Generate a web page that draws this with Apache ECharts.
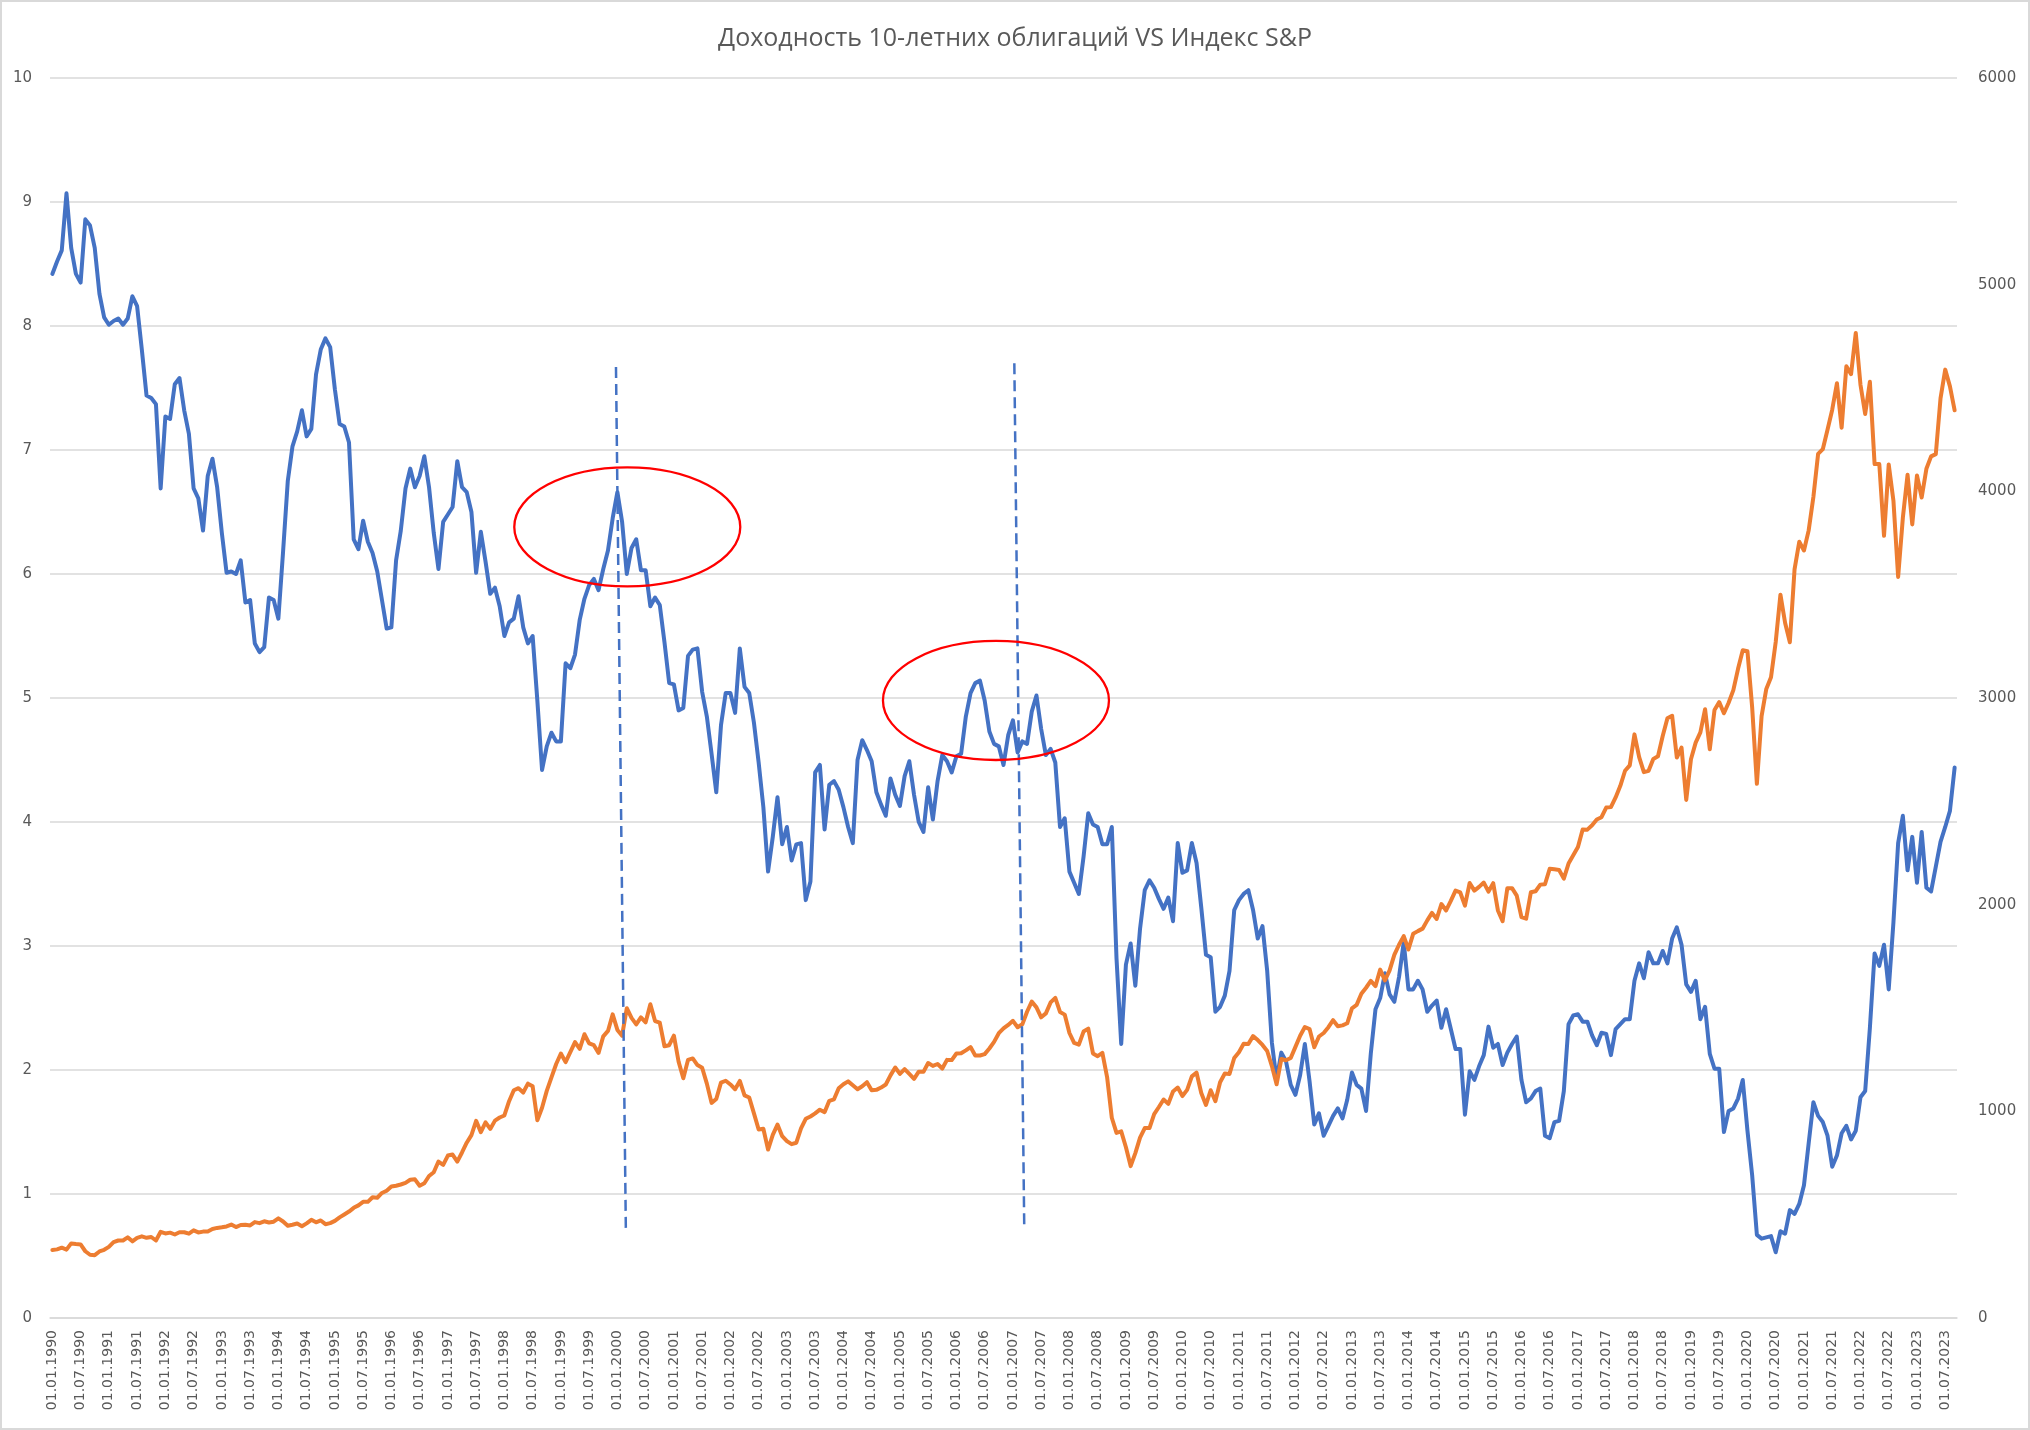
<!DOCTYPE html>
<html>
<head>
<meta charset="utf-8">
<script src="https://cdn.jsdelivr.net/npm/echarts@6/dist/echarts.min.js"></script>
<style>
html,body{margin:0;padding:0;background:#ffffff;}
#chart{width:2030px;height:1430px;}
</style>
</head>
<body>
<div id="chart"></div>
<script>
// ---- data ----
const titleText = 'Доходность 10-летних облигаций VS Индекс S&P';
const startYear = 1990;           // first category: 01.01.1990, monthly
const labelEvery = 6;             // a label every 6 months

// 10-year treasury yield, % (left axis), monthly, Jan 1990 – Sep 2023
const yields = [
  8.42, 8.52, 8.61, 9.07, 8.63, 8.42, 8.35, 8.86, 8.81, 8.63, 8.26, 8.07,
  8.01, 8.04, 8.06, 8.01, 8.06, 8.24, 8.16, 7.81, 7.44, 7.42, 7.37, 6.69,
  7.27, 7.25, 7.53, 7.58, 7.32, 7.13, 6.69, 6.61, 6.35, 6.79, 6.93, 6.70,
  6.33, 6.01, 6.02, 6.00, 6.11, 5.77, 5.79, 5.44, 5.37, 5.41, 5.81, 5.79,
  5.64, 6.18, 6.75, 7.03, 7.15, 7.32, 7.11, 7.17, 7.61, 7.81, 7.90, 7.83,
  7.49, 7.21, 7.19, 7.06, 6.28, 6.20, 6.43, 6.26, 6.17, 6.02, 5.79, 5.56,
  5.57, 6.11, 6.35, 6.69, 6.85, 6.70, 6.79, 6.95, 6.70, 6.33, 6.04, 6.42,
  6.48, 6.54, 6.91, 6.70, 6.66, 6.50, 6.01, 6.34, 6.10, 5.84, 5.89, 5.74,
  5.50, 5.61, 5.64, 5.82, 5.57, 5.44, 5.50, 4.98, 4.42, 4.61, 4.72, 4.65,
  4.65, 5.28, 5.24, 5.35, 5.63, 5.80, 5.91, 5.96, 5.87, 6.04, 6.19, 6.45,
  6.66, 6.42, 6.00, 6.21, 6.28, 6.03, 6.03, 5.74, 5.81, 5.75, 5.45, 5.12,
  5.11, 4.90, 4.92, 5.34, 5.39, 5.40, 5.05, 4.85, 4.55, 4.24, 4.78, 5.04,
  5.04, 4.88, 5.40, 5.09, 5.04, 4.80, 4.48, 4.12, 3.60, 3.88, 4.20, 3.82,
  3.96, 3.69, 3.82, 3.83, 3.37, 3.52, 4.40, 4.46, 3.94, 4.30, 4.33, 4.26,
  4.12, 3.96, 3.83, 4.50, 4.66, 4.58, 4.49, 4.24, 4.14, 4.05, 4.35, 4.22,
  4.13, 4.37, 4.49, 4.22, 4.00, 3.92, 4.28, 4.02, 4.33, 4.54, 4.49, 4.40,
  4.53, 4.55, 4.85, 5.04, 5.12, 5.14, 4.98, 4.73, 4.63, 4.61, 4.46, 4.70,
  4.82, 4.56, 4.65, 4.63, 4.89, 5.02, 4.75, 4.54, 4.59, 4.48, 3.96, 4.03,
  3.60, 3.51, 3.42, 3.72, 4.07, 3.98, 3.96, 3.82, 3.82, 3.96, 2.90, 2.21,
  2.85, 3.02, 2.68, 3.14, 3.45, 3.53, 3.47, 3.38, 3.30, 3.39, 3.20, 3.83,
  3.59, 3.61, 3.83, 3.67, 3.31, 2.93, 2.91, 2.47, 2.51, 2.60, 2.80, 3.29,
  3.37, 3.42, 3.45, 3.29, 3.06, 3.16, 2.80, 2.22, 1.92, 2.14, 2.07, 1.88,
  1.80, 1.96, 2.21, 1.91, 1.56, 1.65, 1.47, 1.55, 1.63, 1.69, 1.61, 1.76,
  1.98, 1.88, 1.85, 1.67, 2.13, 2.49, 2.58, 2.78, 2.61, 2.55, 2.75, 3.03,
  2.65, 2.65, 2.72, 2.65, 2.47, 2.52, 2.56, 2.34, 2.49, 2.33, 2.17, 2.17,
  1.64, 1.99, 1.92, 2.03, 2.12, 2.35, 2.18, 2.21, 2.04, 2.14, 2.21, 2.27,
  1.92, 1.74, 1.77, 1.83, 1.85, 1.47, 1.45, 1.58, 1.59, 1.83, 2.37, 2.44,
  2.45, 2.39, 2.39, 2.28, 2.20, 2.30, 2.29, 2.12, 2.33, 2.37, 2.41, 2.41,
  2.72, 2.86, 2.74, 2.95, 2.86, 2.86, 2.96, 2.86, 3.06, 3.15, 3.01, 2.69,
  2.63, 2.72, 2.41, 2.51, 2.13, 2.01, 2.01, 1.50, 1.67, 1.69, 1.77, 1.92,
  1.51, 1.15, 0.67, 0.64, 0.65, 0.66, 0.53, 0.70, 0.68, 0.87, 0.84, 0.92,
  1.07, 1.41, 1.74, 1.63, 1.58, 1.47, 1.22, 1.31, 1.49, 1.55, 1.44, 1.51,
  1.78, 1.83, 2.34, 2.94, 2.84, 3.01, 2.65, 3.19, 3.83, 4.05, 3.61, 3.88,
  3.51, 3.92, 3.47, 3.44, 3.64, 3.84, 3.96, 4.09, 4.44
];

// S&P 500 index (right axis), monthly, Jan 1990 – Sep 2023
const spx = [
  329, 332, 340, 331, 361, 358, 356, 323, 306, 304, 322, 330,
  344, 367, 375, 375, 390, 371, 388, 395, 388, 392, 375, 417,
  409, 413, 404, 415, 415, 408, 424, 414, 418, 419, 431, 436,
  439, 443, 452, 440, 450, 451, 448, 464, 459, 468, 462, 466,
  482, 467, 446, 451, 457, 444, 458, 475, 463, 472, 454, 459,
  470, 487, 501, 515, 533, 545, 562, 562, 584, 582, 605, 616,
  636, 640, 646, 654, 669, 671, 640, 652, 687, 705, 757, 741,
  786, 791, 757, 801, 848, 885, 954, 899, 947, 915, 955, 970,
  980, 1049, 1102, 1112, 1091, 1134, 1121, 957, 1017, 1099, 1164, 1229,
  1280, 1238, 1286, 1335, 1302, 1373, 1329, 1320, 1283, 1363, 1389, 1469,
  1394, 1366, 1499, 1452, 1421, 1455, 1431, 1518, 1437, 1429, 1315, 1320,
  1366, 1240, 1160, 1249, 1256, 1224, 1211, 1134, 1041, 1060, 1139, 1148,
  1130, 1107, 1147, 1077, 1067, 990, 912, 916, 815, 886, 936, 880,
  856, 841, 848, 917, 964, 975, 990, 1008, 996, 1051, 1058, 1112,
  1131, 1145, 1126, 1107, 1121, 1141, 1102, 1104, 1115, 1130, 1174, 1212,
  1181, 1204, 1181, 1157, 1192, 1191, 1234, 1220, 1229, 1207, 1249, 1248,
  1280, 1281, 1295, 1311, 1270, 1270, 1277, 1304, 1336, 1378, 1401, 1418,
  1438, 1407, 1421, 1482, 1531, 1503, 1455, 1474, 1527, 1549, 1481, 1468,
  1379, 1331, 1323, 1386, 1400, 1280, 1267, 1283, 1166, 969, 896, 903,
  826, 735, 798, 873, 919, 919, 987, 1021, 1057, 1036, 1096, 1115,
  1074, 1104, 1169, 1187, 1089, 1031, 1102, 1049, 1141, 1183, 1181, 1258,
  1286, 1327, 1326, 1364, 1345, 1321, 1292, 1219, 1131, 1253, 1247, 1258,
  1312, 1366, 1408, 1398, 1310, 1362, 1379, 1407, 1441, 1412, 1416, 1426,
  1498, 1515, 1569, 1598, 1631, 1606, 1686, 1633, 1682, 1757, 1806, 1848,
  1783, 1859, 1872, 1884, 1924, 1960, 1931, 2003, 1972, 2018, 2068, 2059,
  1995, 2105, 2068, 2086, 2107, 2063, 2104, 1972, 1920, 2079, 2080, 2044,
  1940, 1932, 2060, 2065, 2097, 2099, 2174, 2171, 2168, 2126, 2199, 2239,
  2279, 2364, 2363, 2384, 2412, 2423, 2470, 2472, 2519, 2575, 2648, 2674,
  2824, 2714, 2641, 2648, 2705, 2718, 2816, 2902, 2914, 2712, 2760, 2507,
  2704, 2784, 2834, 2946, 2752, 2942, 2980, 2926, 2977, 3038, 3141, 3231,
  3226, 2954, 2585, 2912, 3044, 3100, 3271, 3500, 3363, 3270, 3622, 3756,
  3714, 3811, 3973, 4181, 4204, 4298, 4395, 4523, 4308, 4605, 4567, 4766,
  4516, 4374, 4530, 4132, 4132, 3785, 4130, 3955, 3586, 3872, 4080, 3840,
  4077, 3970, 4109, 4169, 4180, 4450, 4589, 4508, 4392
];

// left axis ticks (yield) and right axis ticks (index)
const leftAxisRange = [0, 10, 1];
const rightAxisRange = [0, 6000, 1000];

// annotations in data units: [category index, left-axis value]
const ellipses = [
  {center: [122.1, 6.38], radius: [24.0, 0.48]},
  {center: [200.4, 4.98], radius: [24.0, 0.48]}
];
const dashedLines = [
  {from: [119.7, 7.67], to: [121.8, 0.70]},
  {from: [204.3, 7.70], to: [206.4, 0.75]}
];

// ---- categories ----
const categories = [];
for (let i = 0; i < yields.length; i++) {
  const y = startYear + Math.floor(i / 12);
  const m = (i % 12) + 1;
  categories.push('01.' + (m < 10 ? '0' + m : m) + '.' + y);
}

const grey = '#595959';
const gridGrey = '#d9d9d9';

const chart = echarts.init(document.getElementById('chart'), null, {renderer: 'canvas'});
chart.setOption({
  animation: false,
  backgroundColor: '#ffffff',
  title: {
    text: titleText,
    left: 'center',
    top: 21,
    textStyle: {fontFamily: 'Open Sans', fontSize: 25, fontWeight: 'normal', color: grey}
  },
  grid: {left: 50, right: 73, top: 78, bottom: 112, containLabel: false},
  xAxis: {
    type: 'category',
    data: categories,
    boundaryGap: true,
    axisLine: {lineStyle: {color: gridGrey, width: 1.5}},
    axisTick: {interval: labelEvery - 1, length: 6, lineStyle: {color: gridGrey, width: 1.5}},
    axisLabel: {interval: labelEvery - 1, rotate: 90, margin: 12,
      fontFamily: 'DejaVu Sans', fontSize: 14, color: grey}
  },
  yAxis: [
    {
      type: 'value', min: leftAxisRange[0], max: leftAxisRange[1], interval: leftAxisRange[2],
      axisLine: {show: false}, axisTick: {show: false},
      splitLine: {lineStyle: {color: gridGrey, width: 1.5}},
      axisLabel: {margin: 18, fontFamily: 'DejaVu Sans', fontSize: 15, color: grey}
    },
    {
      type: 'value', position: 'right',
      min: rightAxisRange[0], max: rightAxisRange[1], interval: rightAxisRange[2],
      axisLine: {show: false}, axisTick: {show: false}, splitLine: {show: false},
      axisLabel: {margin: 21, fontFamily: 'DejaVu Sans', fontSize: 15, color: grey,
        formatter: function (v) { return String(v); }}
    }
  ],
  series: [
    {type: 'line', name: 'yield', data: yields, yAxisIndex: 0, symbol: 'none',
      lineStyle: {color: '#4472C4', width: 4, join: 'round', cap: 'round'}, z: 2},
    {type: 'line', name: 'spx', data: spx, yAxisIndex: 1, symbol: 'none',
      lineStyle: {color: '#ED7D31', width: 4, join: 'round', cap: 'round'}, z: 3}
  ]
});

// annotations positioned through the chart's own scales
function toPx(pt) {
  const a = chart.convertToPixel({gridIndex: 0}, [0, pt[1]]);
  const b = chart.convertToPixel({gridIndex: 0}, [1, pt[1]]);
  return [a[0] + (b[0] - a[0]) * pt[0], a[1]];
}
function spanPx(center, radius) {
  const c = toPx(center);
  const rx = toPx([center[0] + radius[0], center[1]])[0] - c[0];
  const ry = c[1] - toPx([center[0], center[1] + radius[1]])[1];
  return {cx: c[0], cy: c[1], rx: rx, ry: ry};
}
const graphics = [];
dashedLines.forEach(function (l) {
  const p1 = toPx(l.from), p2 = toPx(l.to);
  graphics.push({type: 'line', z: 10,
    shape: {x1: p1[0], y1: p1[1], x2: p2[0], y2: p2[1]},
    style: {stroke: '#4472C4', lineWidth: 2.5, lineDash: [11, 6]}});
});
ellipses.forEach(function (e) {
  graphics.push({type: 'ellipse', z: 11, shape: spanPx(e.center, e.radius),
    style: {fill: 'none', stroke: '#FF0000', lineWidth: 2.3}});
});
graphics.push({type: 'rect', z: 0, silent: true,
  shape: {x: 1, y: 1, width: 2028, height: 1428},
  style: {fill: 'none', stroke: gridGrey, lineWidth: 2}});
chart.setOption({graphic: graphics});
</script>
</body>
</html>
